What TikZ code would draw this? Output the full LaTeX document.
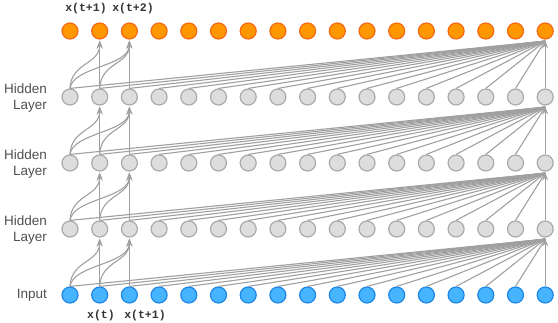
\documentclass[tikz,border=0pt]{standalone}
\usepackage{fontspec}
\setmainfont{Liberation Sans}
\newfontfamily\monof{Liberation Mono}
\usetikzlibrary{arrows.meta}
\definecolor{orfill}{RGB}{255,152,0}
\definecolor{ordraw}{RGB}{245,105,20}
\definecolor{blfill}{RGB}{70,180,255}
\definecolor{bldraw}{RGB}{30,135,230}
\definecolor{grfill}{RGB}{221,221,221}
\definecolor{grdraw}{RGB}{170,170,170}
\definecolor{edgecol}{RGB}{160,160,160}
\definecolor{labcol}{RGB}{80,80,80}
\tikzset{
  neuron/.style={circle, minimum size=16pt, inner sep=0pt, line width=1.2pt},
  outn/.style={neuron, fill=orfill, draw=ordraw},
  inn/.style={neuron, fill=blfill, draw=bldraw},
  hidn/.style={neuron, fill=grfill, draw=grdraw},
  edge/.style={draw=edgecol, line width=1.1pt},
  arr/.style={edge, -{Stealth[length=8pt,width=6pt,inset=3pt]}},
  lab/.style={text=labcol, font=\fontsize{13.5}{16}\selectfont, align=right, anchor=east, inner sep=0pt},
  mlab/.style={text=black!80, font=\monof\bfseries\fontsize{11.5}{13}\selectfont, inner sep=0pt}
}
\begin{document}
\begin{tikzpicture}[x=1pt,y=-1pt]
\useasboundingbox (0,0) rectangle (558,322);
\foreach \i in {0,...,16} {
  \node[outn] (o-\i) at ({70+29.7*\i},31) {};
  \node[hidn] (a-\i) at ({70+29.7*\i},97) {};
  \node[hidn] (b-\i) at ({70+29.7*\i},163) {};
  \node[hidn] (c-\i) at ({70+29.7*\i},229) {};
  \node[inn] (n-\i) at ({70+29.7*\i},295) {};
}
\foreach \L/\U in {n/c, c/b, b/a, a/o} {
  \foreach \i in {0,...,15} {
    \draw[edge] (\L-\i.north) -- ([yshift=-1.5pt]\U-16.south);
  }
  \draw[arr] (\L-16.north) -- ([yshift=-1pt]\U-16.south);
  \draw[arr] (\L-1.north) -- ([yshift=-1pt]\U-1.south);
  \draw[arr] (\L-2.north) -- ([yshift=-1pt]\U-2.south);
  \draw[arr] (\L-0.north) .. controls +(1,-26) and +(0,24) .. ([yshift=-1pt]\U-1.south);
  \draw[arr] (\L-0.north) .. controls +(3,-22) and +(0,26) .. ([yshift=-1pt]\U-2.south);
  \draw[arr] (\L-1.north) .. controls +(1,-26) and +(0,24) .. ([yshift=-1pt]\U-2.south);
}
\node[lab] (l1) at (47,98) {Hidden\\Layer};
\node[lab] (l2) at (47,164) {Hidden\\Layer};
\node[lab] (l3) at (47,230) {Hidden\\Layer};
\node[lab] (l4) at (47,295) {Input};
\node[mlab] (t1) at (86,9) {x(t+1)};
\node[mlab] (t2) at (133,9) {x(t+2)};
\node[mlab] (b1) at (101,316) {x(t)};
\node[mlab] (b2) at (145,316) {x(t+1)};
\end{tikzpicture}
\end{document}
